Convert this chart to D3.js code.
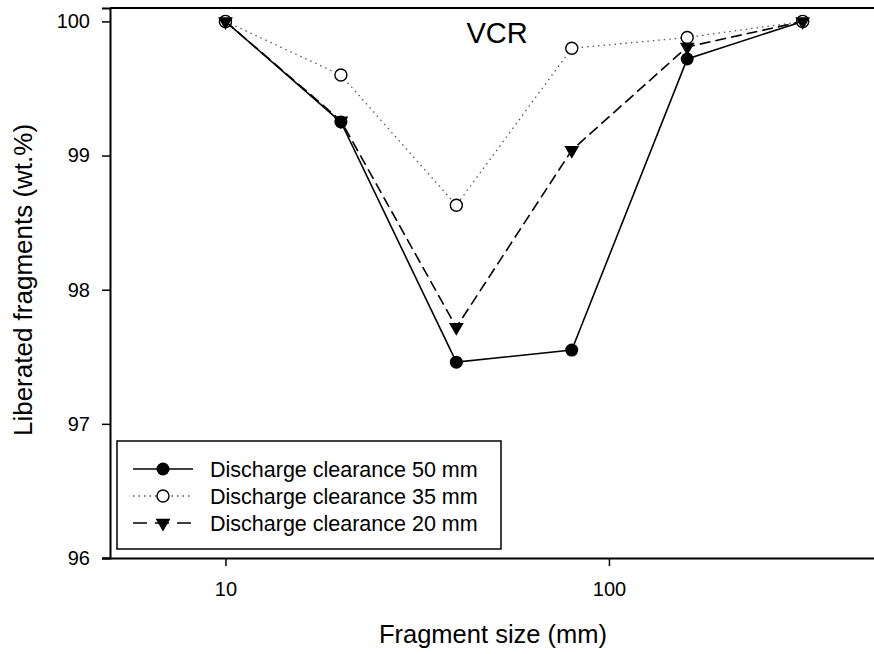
<!DOCTYPE html>
<html>
<head>
<meta charset="utf-8">
<script src="https://cdn.jsdelivr.net/npm/d3@7"></script>
<style>
  body { margin: 0; background: #fff; }
  svg { display: block; font-family: "Liberation Sans", Arial, sans-serif; }
</style>
</head>
<body>
<div id="chart"></div>
<script>
// fragment size (mm) and liberated fragments (wt.%)
const sizes = [10, 20, 40, 80, 160, 320];
const clear50 = [100, 99.25, 97.46, 97.55, 99.72, 100];
const clear35 = [100, 99.60, 98.63, 99.80, 99.88, 100];
const clear20 = [100, 99.26, 97.72, 99.04, 99.81, 100];
const seriesNames = ["Discharge clearance 50 mm", "Discharge clearance 35 mm", "Discharge clearance 20 mm"];
const xTicks = [10, 100];
const yTicks = [96, 97, 98, 99, 100];

const W = 874, H = 654;
const plotLeft = 110, plotTop = 8, plotBottom = 558;

const svg = d3.select("#chart")
    .append("svg")
    .attr("width", W)
    .attr("height", H);

const x = d3.scaleLog().domain([5, 500]).range([plotLeft, 877]);
const y = d3.scaleLinear().domain([96, 100.1]).range([plotBottom, plotTop]);

// frame: top line, left and bottom axes (no right line, runs off the page)
svg.append("line")
    .attr("x1", plotLeft).attr("x2", W).attr("y1", plotTop).attr("y2", plotTop)
    .attr("stroke", "#000").attr("stroke-width", 2);

const yAxis = svg.append("g")
    .attr("transform", `translate(${plotLeft},0)`)
    .call(d3.axisLeft(y).tickValues(yTicks).tickFormat(d3.format("d")).tickSizeOuter(0).tickSize(8).tickPadding(12));

const xAxis = svg.append("g")
    .attr("transform", `translate(0,${plotBottom})`)
    .call(d3.axisBottom(x).tickValues(xTicks).tickFormat(d3.format("d")).tickSizeOuter(0).tickSize(8).tickPadding(16));

[xAxis, yAxis].forEach(a => {
    a.select(".domain").attr("stroke-width", 2);
    a.selectAll(".tick line").attr("stroke-width", 1.5);
    a.selectAll("text").attr("font-size", 20).attr("fill", "#000")
        .attr("font-family", "'Liberation Sans', Arial, sans-serif");
});
xAxis.select(".domain").attr("d", `M${plotLeft - 8},0.5H${W}`);

// axis titles
svg.append("text")
    .attr("x", 493)
    .attr("y", 643)
    .attr("text-anchor", "middle")
    .attr("font-size", 25.5)
    .text("Fragment size (mm)");

svg.append("text")
    .attr("transform", `translate(32,280) rotate(-90)`)
    .attr("text-anchor", "middle")
    .attr("font-size", 26)
    .text("Liberated fragments (wt.%)");

svg.append("text")
    .attr("x", 497)
    .attr("y", 43)
    .attr("text-anchor", "middle")
    .attr("font-size", 29)
    .text("VCR");

// series
const series = [
    { name: seriesNames[0], values: clear50, dash: null, width: 1.6, color: "#000", marker: "circleFill" },
    { name: seriesNames[1], values: clear35, dash: "1.5,4", width: 1.3, color: "#555", marker: "circleOpen" },
    { name: seriesNames[2], values: clear20, dash: "11,5", width: 1.6, color: "#000", marker: "triangle" }
];

const line = d3.line()
    .x(d => x(d[0]))
    .y(d => y(d[1]));

const triPath = d3.symbol().type(d3.symbolTriangle).size(95)();

function drawMarker(g, type) {
    if (type === "circleFill") {
        g.append("circle").attr("r", 6.5).attr("fill", "#000");
    } else if (type === "circleOpen") {
        g.append("circle").attr("r", 6).attr("fill", "#fff").attr("stroke", "#000").attr("stroke-width", 1.4);
    } else {
        g.append("path").attr("d", triPath).attr("transform", "rotate(180)").attr("fill", "#000");
    }
}

series.forEach(s => {
    const pts = sizes.map((v, i) => [v, s.values[i]]);
    svg.append("path")
        .datum(pts)
        .attr("d", line)
        .attr("fill", "none")
        .attr("stroke", s.color)
        .attr("stroke-width", s.width)
        .attr("stroke-dasharray", s.dash);

    svg.selectAll(null)
        .data(pts)
        .enter().append("g")
        .attr("transform", d => `translate(${x(d[0])},${y(d[1])})`)
        .each(function () { drawMarker(d3.select(this), s.marker); });
});

// legend
const legend = svg.append("g");
legend.append("rect")
    .attr("x", 117).attr("y", 441)
    .attr("width", 384).attr("height", 108)
    .attr("fill", "#fff")
    .attr("stroke", "#000")
    .attr("stroke-width", 1.5);

const rows = legend.selectAll("g.row")
    .data(series)
    .enter().append("g")
    .attr("class", "row")
    .attr("transform", (d, i) => `translate(0,${469 + i * 27})`);

rows.append("line")
    .attr("x1", 133).attr("x2", 193)
    .attr("stroke", d => d.color)
    .attr("stroke-width", d => d.width)
    .attr("stroke-dasharray", d => d.dash ? (d.marker === "triangle" ? "14,8" : d.dash) : null);

rows.append("g")
    .attr("transform", "translate(163,0)")
    .each(function (d) { drawMarker(d3.select(this), d.marker); });

rows.append("text")
    .attr("x", 210)
    .attr("y", 8)
    .attr("font-size", 21.5)
    .text(d => d.name);
</script>
</body>
</html>
